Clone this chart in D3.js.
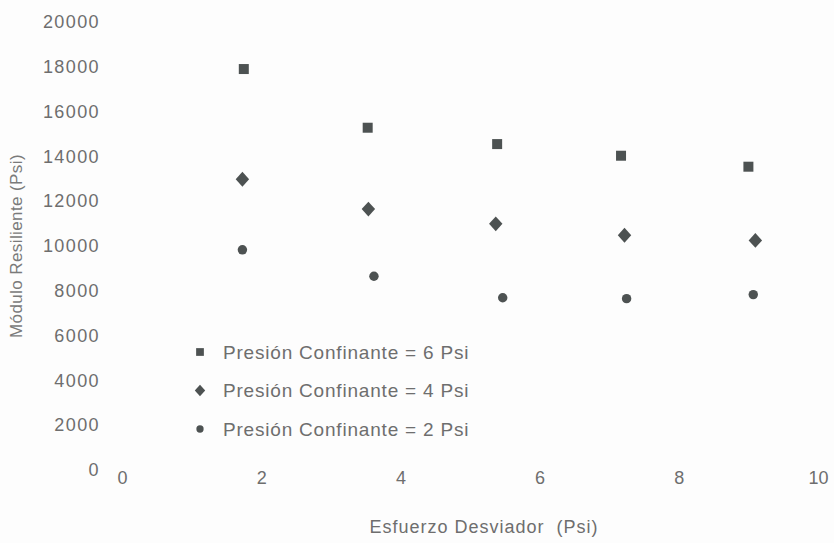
<!DOCTYPE html>
<html>
<head>
<meta charset="utf-8">
<script src="https://cdn.jsdelivr.net/npm/d3@7"></script>
<style>
    body { margin: 0; background: #fdfdfd; }
    svg { font-family: 'Liberation Sans', Arial, sans-serif; }
    .tick text { fill: #6e6e6e; }
</style>
</head>
<body>
<svg width="834" height="543"></svg>
<script>
// x values (Esfuerzo Desviador, Psi) for each series
var xSeis   = [ 1.75, 3.53, 5.39, 7.17, 9.00 ],
    xCuatro = [ 1.73, 3.54, 5.37, 7.22, 9.10 ],
    xDos    = [ 1.73, 3.62, 5.47, 7.25, 9.07 ],
    // y values (Módulo Resiliente, Psi)
    ySeis   = [ 17900, 15280, 14550, 14030, 13540 ],
    yCuatro = [ 12980, 11650, 10990, 10480, 10250 ],
    yDos    = [ 9830, 8650, 7690, 7650, 7830 ],
    xTicks  = [ 0, 2, 4, 6, 8, 10 ],
    yTicks  = [ 0, 2000, 4000, 6000, 8000, 10000, 12000, 14000, 16000, 18000, 20000 ],
    seriesNames = [
        'Presión Confinante = 6 Psi',
        'Presión Confinante = 4 Psi',
        'Presión Confinante = 2 Psi'
    ];

// square rotated by 45 degrees, a bit taller than wide
var squareDiamond = {
    draw : function( context, size ) {
        var r = Math.sqrt( size / 2 );
        context.moveTo( 0, -r * 1.1 );
        context.lineTo( r, 0 );
        context.lineTo( 0, r * 1.1 );
        context.lineTo( -r, 0 );
        context.closePath();
    }
};

var series = [
    { name : seriesNames[ 0 ], xs : xSeis,   ys : ySeis,   shape : d3.symbolSquare, size : 100 },
    { name : seriesNames[ 1 ], xs : xCuatro, ys : yCuatro, shape : squareDiamond,   size : 90 },
    { name : seriesNames[ 2 ], xs : xDos,    ys : yDos,    shape : d3.symbolCircle, size : 70 }
];

var svg = d3.select( 'svg' ),
    x = d3.scaleLinear().domain( [ 0, 10 ] ).range( [ 122, 818 ] ),
    y = d3.scaleLinear().domain( [ 0, 20000 ] ).range( [ 470, 22 ] ),
    markColor = '#4d5252';

// x axis (labels only, no line)
var xAxis = svg.append( 'g' )
    .attr( 'transform', 'translate(0,470)' )
    .call( d3.axisBottom( x ).tickValues( xTicks ).tickSize( 0 ).tickPadding( 1 ) );
xAxis.select( '.domain' ).remove();
xAxis.selectAll( 'text' ).attr( 'font-size', 18 );

// y axis (labels only)
var yAxis = svg.append( 'g' )
    .attr( 'transform', 'translate(100,0)' )
    .call( d3.axisLeft( y ).tickValues( yTicks ).tickFormat( d3.format( 'd' ) ).tickSize( 0 ).tickPadding( 0 ) );
yAxis.select( '.domain' ).remove();
yAxis.selectAll( 'text' )
    .attr( 'font-size', 18 )
    .attr( 'letter-spacing', 1.4 );

// axis titles
svg.append( 'text' )
    .attr( 'x', 484 )
    .attr( 'y', 533 )
    .attr( 'text-anchor', 'middle' )
    .attr( 'font-size', 18 )
    .attr( 'letter-spacing', 1 )
    .attr( 'fill', '#6e6e6e' )
    .style( 'white-space', 'pre' )
    .text( 'Esfuerzo Desviador  (Psi)' );

svg.append( 'text' )
    .attr( 'transform', 'translate(22,246) rotate(-90)' )
    .attr( 'text-anchor', 'middle' )
    .attr( 'font-size', 17 )
    .attr( 'letter-spacing', 0.4 )
    .attr( 'fill', '#7a7a7a' )
    .text( 'Módulo Resiliente (Psi)' );

// points
series.forEach( function( s ) {
    svg.append( 'g' )
        .selectAll( 'path' )
        .data( s.xs.map( function( v, i ) { return { x : v, y : s.ys[ i ] }; } ) )
        .enter().append( 'path' )
        .attr( 'd', d3.symbol().type( s.shape ).size( s.size ) )
        .attr( 'transform', function( d ) {
            return 'translate(' + x( d.x ) + ',' + y( d.y ) + ')';
        } )
        .attr( 'fill', markColor );
} );

// legend
var legend = svg.append( 'g' ).attr( 'transform', 'translate(200,352)' );
series.forEach( function( s, i ) {
    var row = legend.append( 'g' ).attr( 'transform', 'translate(0,' + ( i * 38.5 ) + ')' );
    row.append( 'path' )
        .attr( 'd', d3.symbol().type( s.shape ).size( s.size * 0.6 ) )
        .attr( 'fill', markColor );
    row.append( 'text' )
        .attr( 'x', 23 )
        .attr( 'dy', '0.35em' )
        .attr( 'font-size', 19 )
        .attr( 'letter-spacing', 0.8 )
        .attr( 'fill', '#6e6e6e' )
        .text( s.name );
} );
</script>
</body>
</html>
